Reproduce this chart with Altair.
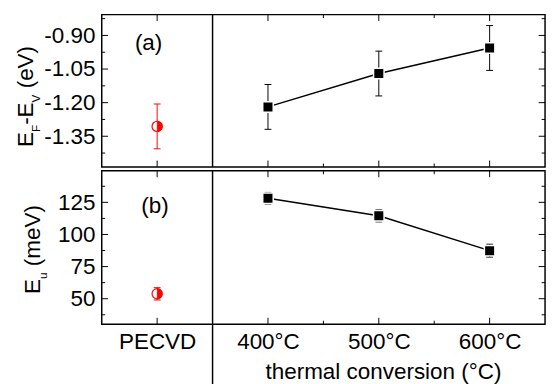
import altair as alt
import pandas as pd

FONT = "Liberation Sans"
FS = 23

# ---------------- data ----------------
categories = ["PECVD", "400°C", "500°C", "600°C"]
cat_pos = [300, 400, 500, 600]          # PECVD sits left of the divider at 350
pecvd_x = [300]
temps = [400, 500, 600]
x_major = [300, 400, 500, 600]
x_minor = [450, 550]
divider_x = [350]
x_domain = [250, 650]

# panel (a): E_F - E_V (eV)
a_pecvd = [-1.306]
a_pecvd_err = [0.10]
a_thermal = [-1.219, -1.070, -0.956]
a_thermal_err = [0.10, 0.10, 0.10]
a_major = [-1.35, -1.20, -1.05, -0.90]
a_minor = [-1.425, -1.275, -1.125, -0.975, -0.825]
a_domain = [-1.487, -0.807]

# panel (b): E_u (meV)
b_pecvd = [53.8]
b_pecvd_err = [4.8]
b_thermal = [128.2, 114.5, 87.4]
b_thermal_err = [4.5, 4.7, 5.0]
b_major = [50, 75, 100, 125]
b_minor = [37.5, 62.5, 87.5, 112.5, 137.5]
b_domain = [30.2, 149.5]

W = 454
HA = 156
HB = 157

xs = alt.Scale(domain=x_domain, nice=False, zero=False)

label_expr = " : ".join(
    f"datum.value == {v} ? '{c}'" for v, c in zip(cat_pos, categories)
) + " : ''"

x_axis_b = alt.Axis(
    values=cat_pos, labelExpr=label_expr, ticks=False, domain=False, grid=False,
    labelFont=FONT, labelFontSize=FS, labelColor="black", labelPadding=7,
    labelFlush=False, labelOverlap=False,
    title="thermal conversion (°C)", titleFont=FONT, titleFontSize=FS,
    titleFontWeight="normal", titleColor="black", titleX=288, titleY=56,
    titleAlign="center", titleBaseline="alphabetic",
)


def panel(H, ydomain, ymajor, yminor, ylabel_expr, pec, pec_err, th, th_err,
          xaxis, letter, letter_xy, title_pieces, divider_len):
    ys = alt.Scale(domain=ydomain, nice=False, zero=False)
    yaxis = alt.Axis(values=ymajor, labelExpr=ylabel_expr, ticks=False,
                     domain=False, grid=False, title=None, labelFont=FONT,
                     labelFontSize=FS, labelColor="black", labelPadding=7)

    def X(f):
        return alt.X(f"{f}:Q", scale=xs, axis=xaxis)

    def Y(f):
        return alt.Y(f"{f}:Q", scale=ys, axis=yaxis)

    layers = []
    # inward ticks on all four sides
    for vals, L in [(x_major, 6.5), (x_minor, 3.5)]:
        d = pd.DataFrame({"v": vals})
        layers.append(alt.Chart(d).mark_rule(color="black", strokeWidth=1).encode(
            x=X("v"), y=alt.value(0), y2=alt.value(L)))
        layers.append(alt.Chart(d).mark_rule(color="black", strokeWidth=1).encode(
            x=X("v"), y=alt.value(H), y2=alt.value(H - L)))
    for vals, L in [(ymajor, 6.5), (yminor, 3.5)]:
        d = pd.DataFrame({"v": vals})
        layers.append(alt.Chart(d).mark_rule(color="black", strokeWidth=1).encode(
            y=Y("v"), x=alt.value(0), x2=alt.value(L)))
        layers.append(alt.Chart(d).mark_rule(color="black", strokeWidth=1).encode(
            y=Y("v"), x=alt.value(W), x2=alt.value(W - L)))

    # divider between PECVD and thermal conversion
    layers.append(alt.Chart(pd.DataFrame({"v": divider_x})).mark_rule(
        color="black", strokeWidth=1.5).encode(
        x=X("v"), y=alt.value(0), y2=alt.value(divider_len)))

    pec_df = pd.DataFrame({"x": pecvd_x, "y": pec,
                           "lo": [v - e for v, e in zip(pec, pec_err)],
                           "hi": [v + e for v, e in zip(pec, pec_err)]})
    th_df = pd.DataFrame({"x": temps, "y": th,
                          "lo": [v - e for v, e in zip(th, th_err)],
                          "hi": [v + e for v, e in zip(th, th_err)]})

    for df, col in [(pec_df, "red"), (th_df, "black")]:
        layers.append(alt.Chart(df).mark_rule(color=col, strokeWidth=1).encode(
            x=X("x"), y=Y("lo"), y2=alt.Y2("hi")))
        for f in ["lo", "hi"]:
            layers.append(alt.Chart(df).mark_tick(
                orient="horizontal", color=col, size=7, thickness=1, opacity=1).encode(
                x=X("x"), y=Y(f)))

    layers.append(alt.Chart(th_df).mark_line(color="black", strokeWidth=1.5).encode(
        x=X("x"), y=Y("y")))
    layers.append(alt.Chart(th_df).mark_point(
        shape="square", filled=True, fill="black", stroke="white", strokeWidth=1.5,
        size=115, opacity=1).encode(x=X("x"), y=Y("y")))

    layers.append(alt.Chart(pec_df).mark_point(
        shape="circle", filled=True, fill="white", stroke="red", strokeWidth=1.2,
        size=110, opacity=1).encode(x=X("x"), y=Y("y")))
    layers.append(alt.Chart(pec_df).mark_point(
        shape="M0,-1A1,1,0,0,1,0,1Z", filled=True, fill="red", stroke="red",
        strokeWidth=0.5, size=110, opacity=1).encode(x=X("x"), y=Y("y")))

    # panel letter
    layers.append(alt.Chart(pd.DataFrame({"t": [letter]})).mark_text(
        align="center", baseline="alphabetic", font=FONT, fontSize=FS,
        color="black").encode(text="t:N", x=alt.value(letter_xy[0]),
                              y=alt.value(letter_xy[1])))

    # y title with subscripts
    for txt, size, tx, ty in title_pieces:
        layers.append(alt.Chart(pd.DataFrame({"t": [txt]})).mark_text(
            angle=270, align="left", baseline="alphabetic", font=FONT,
            fontSize=size, color="black").encode(
            text="t:N", x=alt.value(tx), y=alt.value(ty)))

    # white (invisible on white page) pin fixing the left extent
    layers.append(alt.Chart(pd.DataFrame({"t": [0]})).mark_rule(
        color="white", strokeWidth=2).encode(
        x=alt.value(-94), y=alt.value(10), y2=alt.value(20)))

    return alt.layer(*layers).properties(width=W, height=H)


minus_fix = "replace(format(datum.value, '.2f'), '\u2212', '-')"

pa = panel(HA, a_domain, a_major, a_minor, minus_fix,
           a_pecvd, a_pecvd_err, a_thermal, a_thermal_err, None,
           "(a)", (48, 36),
           [("E", FS, -70, 135.5), ("F", 12, -63, 120.2), ("-E", FS, -70, 112.9),
            ("V", 12, -63, 89.9), ("(eV)", FS, -70, 75.5)],
           HA)

pb = panel(HB, b_domain, b_major, b_minor, "format(datum.value, 'd')",
           b_pecvd, b_pecvd_err, b_thermal, b_thermal_err, x_axis_b,
           "(b)", (54.5, 42.7),
           [("E", FS, -63, 126), ("u", 12, -56, 110.7), ("(meV)", FS, -63, 97.6)],
           HB + 75)

chart = alt.vconcat(pa, pb, spacing=0).properties(padding=0).configure_view(
    stroke="black", strokeWidth=1.5)

chart.save("out.html", embed_options={"renderer": "svg", "actions": False})
